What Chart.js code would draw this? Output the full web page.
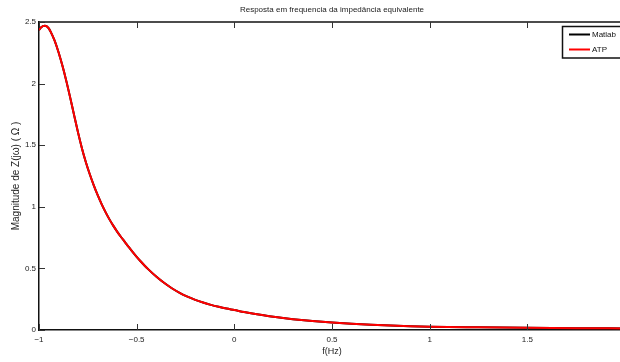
<!DOCTYPE html>
<html>
<head>
<meta charset="utf-8">
<script src="https://cdn.jsdelivr.net/npm/chart.js@4.4.0/dist/chart.umd.min.js"></script>
<style>
    html, body { margin: 0; padding: 0; background: #fff; overflow: hidden; }
    canvas { display: block; }
</style>
</head>
<body>
<canvas id="impedanceChart" width="630" height="362"></canvas>
<script>
// Frequency samples (Hz) and |Z(jw)| magnitudes (ohm)
const freqHz = [-1.00, -0.99, -0.98, -0.97, -0.96, -0.95, -0.94, -0.92, -0.90, -0.88,
    -0.86, -0.84, -0.82, -0.80, -0.78, -0.76, -0.74, -0.72, -0.70, -0.68,
    -0.66, -0.64, -0.62, -0.60, -0.58, -0.56, -0.54, -0.52, -0.50, -0.48,
    -0.46, -0.44, -0.40, -0.36, -0.32, -0.28, -0.24, -0.20, -0.16, -0.12,
    -0.08, -0.04, 0.00, 0.05, 0.10, 0.15, 0.20, 0.25, 0.30, 0.40,
    0.50, 0.60, 0.70, 0.80, 0.90, 1.00, 1.25, 1.50, 1.75, 2.00];
const zMatlab = [2.435, 2.455, 2.467, 2.47, 2.465, 2.448, 2.42, 2.348, 2.254, 2.144,
    2.02, 1.884, 1.742, 1.602, 1.474, 1.362, 1.264, 1.176, 1.096, 1.024,
    0.959, 0.9, 0.847, 0.799, 0.755, 0.714, 0.672, 0.632, 0.594, 0.558,
    0.524, 0.492, 0.434, 0.383, 0.339, 0.302, 0.271, 0.245, 0.223, 0.204,
    0.188, 0.174, 0.162, 0.146, 0.132, 0.119, 0.107, 0.097, 0.088, 0.073,
    0.06, 0.05, 0.042, 0.036, 0.031, 0.027, 0.022, 0.018, 0.015, 0.013];
const zAtp = [2.435, 2.455, 2.467, 2.47, 2.465, 2.448, 2.42, 2.348, 2.254, 2.144,
    2.02, 1.884, 1.742, 1.602, 1.474, 1.362, 1.264, 1.176, 1.096, 1.024,
    0.959, 0.9, 0.847, 0.799, 0.755, 0.714, 0.672, 0.632, 0.594, 0.558,
    0.524, 0.492, 0.434, 0.383, 0.339, 0.302, 0.271, 0.245, 0.223, 0.204,
    0.188, 0.174, 0.162, 0.146, 0.132, 0.119, 0.107, 0.097, 0.088, 0.073,
    0.06, 0.05, 0.042, 0.036, 0.031, 0.027, 0.022, 0.018, 0.015, 0.013];

const xTicks = [-1, -0.5, 0, 0.5, 1, 1.5];
const yTicks = [0, 0.5, 1, 1.5, 2, 2.5];

const FONT = 'Liberation Sans, Arial, Helvetica, sans-serif';

function toPoints(xs, ys) {
    return xs.map((x, i) => ({ x: x, y: ys[i] }));
}

function fmtTick(v) {
    return v < 0 ? '\u2212' + String(-v) : String(v);
}

// Matlab-style box: top border plus inward ticks on every side
const axesBoxPlugin = {
    id: 'axesBox',
    afterDraw(chart) {
        const { ctx, chartArea: a, scales: { x, y } } = chart;
        const len = 6;
        ctx.save();
        ctx.strokeStyle = '#111';
        ctx.lineWidth = 1.5;
        ctx.beginPath();
        ctx.moveTo(a.left, a.top);
        ctx.lineTo(a.right + 2, a.top);
        ctx.stroke();

        ctx.lineWidth = 1;
        ctx.strokeStyle = '#333';
        ctx.beginPath();
        xTicks.forEach(v => {
            const px = Math.round(x.getPixelForValue(v)) + 0.5;
            ctx.moveTo(px, a.bottom);
            ctx.lineTo(px, a.bottom - len);
            ctx.moveTo(px, a.top);
            ctx.lineTo(px, a.top + len);
        });
        yTicks.forEach(v => {
            const py = Math.round(y.getPixelForValue(v)) + 0.5;
            ctx.moveTo(a.left, py);
            ctx.lineTo(a.left + len, py);
        });
        ctx.stroke();
        ctx.restore();
    }
};

// Boxed legend in the upper right corner of the axes
const boxLegendPlugin = {
    id: 'boxLegend',
    afterDraw(chart) {
        const { ctx, chartArea: a } = chart;
        const left = 562.5, top = 26.5, right = a.right - 3, bottom = 58;
        ctx.save();
        ctx.fillStyle = '#fff';
        ctx.fillRect(left, top, right - left, bottom - top);
        ctx.strokeStyle = '#111';
        ctx.lineWidth = 1.5;
        ctx.strokeRect(left, top, right - left, bottom - top);

        ctx.font = '8px ' + FONT;
        ctx.textBaseline = 'middle';
        ctx.textAlign = 'left';
        chart.data.datasets.forEach((ds, i) => {
            const yy = 34.5 + i * 15;
            ctx.strokeStyle = ds.borderColor;
            ctx.lineWidth = 2;
            ctx.beginPath();
            ctx.moveTo(569, yy);
            ctx.lineTo(590, yy);
            ctx.stroke();
            ctx.fillStyle = '#111';
            ctx.fillText(ds.label, 592, yy + 0.5);
        });
        ctx.restore();
    }
};

const ctx = document.getElementById('impedanceChart');

new Chart(ctx, {
    type: 'line',
    data: {
        datasets: [{
            label: 'Matlab',
            data: toPoints(freqHz, zMatlab),
            borderColor: '#000000',
            borderWidth: 2,
            pointRadius: 0,
            cubicInterpolationMode: 'monotone',
            fill: false,
            order: 2
        }, {
            label: 'ATP',
            data: toPoints(freqHz, zAtp),
            borderColor: '#ff0000',
            borderWidth: 2,
            pointRadius: 0,
            cubicInterpolationMode: 'monotone',
            fill: false,
            order: 1
        }]
    },
    options: {
        responsive: false,
        animation: false,
        events: [],
        layout: { padding: { left: 0, right: 5, top: 0, bottom: 0 } },
        plugins: {
            legend: { display: false },
            tooltip: { enabled: false },
            title: {
                display: true,
                fullSize: false,
                text: 'Resposta em frequencia da impedância equivalente',
                color: '#222',
                font: { family: FONT, size: 8, weight: 'normal' },
                padding: { top: 5, bottom: 7.4 }
            }
        },
        scales: {
            x: {
                type: 'linear',
                min: -1,
                max: 2,
                grid: { display: false, drawTicks: false },
                border: { display: true, color: '#111', width: 1.5 },
                afterBuildTicks: scale => {
                    scale.ticks = xTicks.map(v => ({ value: v }));
                },
                afterFit: scale => { scale.height = 32; },
                ticks: {
                    autoSkip: false,
                    maxRotation: 0,
                    padding: 5,
                    color: '#222',
                    font: { family: FONT, size: 8 },
                    callback: v => fmtTick(v)
                },
                title: {
                    display: true,
                    text: 'f(Hz)',
                    color: '#222',
                    font: { family: FONT, size: 9 },
                    padding: { top: 0, bottom: 4.6 }
                }
            },
            y: {
                type: 'linear',
                min: 0,
                max: 2.5,
                grid: { display: false, drawTicks: false },
                border: { display: true, color: '#111', width: 1.5 },
                afterBuildTicks: scale => {
                    scale.ticks = yTicks.map(v => ({ value: v }));
                },
                afterFit: scale => { scale.width = 39; },
                ticks: {
                    autoSkip: false,
                    padding: 3,
                    color: '#222',
                    font: { family: FONT, size: 8 },
                    callback: v => fmtTick(v)
                },
                title: {
                    display: true,
                    text: 'Magnitude de Z(jω) ( Ω )',
                    color: '#222',
                    font: { family: FONT, size: 10 },
                    padding: { top: 10, bottom: 0 }
                }
            }
        }
    },
    plugins: [axesBoxPlugin, boxLegendPlugin]
});
</script>
</body>
</html>
